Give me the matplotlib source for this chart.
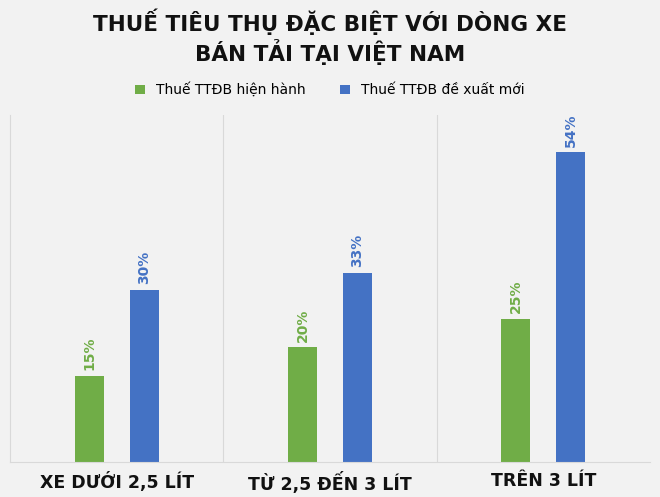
import matplotlib
matplotlib.use("Agg")
import matplotlib.pyplot as plt
import numpy as np

categories = ["XE DƯỚI 2,5 LÍT", "TỪ 2,5 ĐẾN 3 LÍT", "TRÊN 3 LÍT"]
current = [15, 20, 25]
proposed = [30, 33, 54]
series_names = ["Thuế TTĐB hiện hành", "Thuế TTĐB đề xuất mới"]
green, blue = "#70ad47", "#4472c4"
bg = "#f2f2f2"

fig = plt.figure(figsize=(6.6, 4.97), dpi=100, facecolor=bg)
ax = fig.add_axes([10/660, 1-462/497, 640/660, 347/497], facecolor=bg)
x = np.arange(len(categories))
w = 0.136
off = 0.129
b1 = ax.bar(x - off, current, w, color=green, label=series_names[0])
b2 = ax.bar(x + off, proposed, w, color=blue, label=series_names[1])
for bars, vals, c in [(b1, current, green), (b2, proposed, blue)]:
    for r, v in zip(bars, vals):
        ax.text(r.get_x() + r.get_width()/2, v + 1, f"{v}%", rotation=90,
                ha="center", va="bottom", color=c, fontsize=10, fontweight="bold")
ax.set_xlim(-0.5, 2.5)
ax.set_ylim(0, 60.5)
ax.set_yticks([])
ax.set_xticks(x)
ax.set_xticklabels(["  ".join(c.split(" ")).replace("", "\u200a")[1:-1] if False else c for c in categories])
for t in ax.get_xticklabels():
    t.set_fontsize(12.5); t.set_fontweight("bold"); t.set_color("#111111")
ax.tick_params(axis="x", length=0, pad=7)
for xv in [0.5, 1.5]:
    ax.axvline(xv, color="#d9d9d9", lw=0.8)
for s in ["top", "right"]:
    ax.spines[s].set_visible(False)
ax.spines["left"].set_color("#d9d9d9")
ax.spines["bottom"].set_color("#d9d9d9")
fig.text(0.5, 1-22/497, "THUẾ TIÊU THỤ ĐẶC BIỆT VỚI DÒNG XE", ha="center", va="center",
         fontsize=15.5, fontweight="bold", color="#111111")
fig.text(0.5, 1-52/497, "BÁN TẢI TẠI VIỆT NAM", ha="center", va="center",
         fontsize=15.5, fontweight="bold", color="#111111")
fig.legend(loc="center", bbox_to_anchor=(0.5, 1-90/497), ncol=2, frameon=False,
           fontsize=10, handlelength=0.7, handleheight=0.7, columnspacing=2.5)
fig.savefig("out.png", dpi=100, facecolor=bg)
